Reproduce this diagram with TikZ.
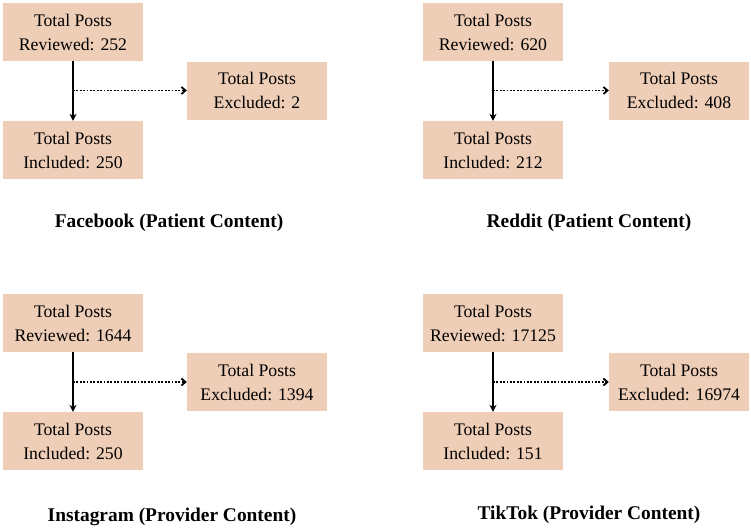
\documentclass[tikz,border=0pt]{standalone}
\usepackage{fontspec}
\setmainfont{Liberation Serif}
\usetikzlibrary{arrows.meta}
\definecolor{postfill}{RGB}{239,206,183}
\tikzset{
	postbox/.style = {fill = postfill, minimum width = 140pt, minimum height = 58pt, inner sep = 0pt, align = center, font = \fontsize{17.7}{24}\selectfont},
	sitelabel/.style = {font = \fontsize{19.4}{23}\selectfont\bfseries},
	keep/.style = {-{Stealth[length = 7pt, width = 7pt]}, line width = 1.7pt},
	drop/.style = {-{Straight Barb[length = 4pt, width = 7pt]}, line width = 1.8pt, dash pattern = on 1.8pt off 1.6pt}
}
\begin{document}
\begin{tikzpicture} [x = 1pt, y = -1pt]
	\useasboundingbox (0,0) rectangle (751,530);
	% Facebook
	\node [postbox] (fbrev) at (73,32) {Total Posts\\Reviewed: 252};
	\node [postbox] (fbexc) at (257,90.5) {Total Posts\\Excluded: 2};
	\node [postbox] (fbinc) at (73,150) {Total Posts\\Included: 250};
	\node [sitelabel] (fblab) at (169,223) {Facebook (Patient Content)};
	\draw [keep] (fbrev) -- (fbinc);
	\draw [drop] (fbrev.south |- fbexc) -- (fbexc);
	% Reddit
	\node [postbox] (rdrev) at (493,32) {Total Posts\\Reviewed: 620};
	\node [postbox] (rdexc) at (679,90.5) {Total Posts\\Excluded: 408};
	\node [postbox] (rdinc) at (493,150) {Total Posts\\Included: 212};
	\node [sitelabel] (rdlab) at (589,223) {Reddit (Patient Content)};
	\draw [keep] (rdrev) -- (rdinc);
	\draw [drop] (rdrev.south |- rdexc) -- (rdexc);
	% Instagram
	\node [postbox] (igrev) at (73,323) {Total Posts\\Reviewed: 1644};
	\node [postbox] (igexc) at (257,382) {Total Posts\\Excluded: 1394};
	\node [postbox] (iginc) at (73,441) {Total Posts\\Included: 250};
	\node [sitelabel] (iglab) at (172,517) {Instagram (Provider Content)};
	\draw [keep] (igrev) -- (iginc);
	\draw [drop] (igrev.south |- igexc) -- (igexc);
	% TikTok
	\node [postbox] (ttrev) at (493,323) {Total Posts\\Reviewed: 17125};
	\node [postbox] (ttexc) at (679,382) {Total Posts\\Excluded: 16974};
	\node [postbox] (ttinc) at (493,441) {Total Posts\\Included: 151};
	\node [sitelabel] (ttlab) at (589,515) {TikTok (Provider Content)};
	\draw [keep] (ttrev) -- (ttinc);
	\draw [drop] (ttrev.south |- ttexc) -- (ttexc);
\end{tikzpicture}
\end{document}
